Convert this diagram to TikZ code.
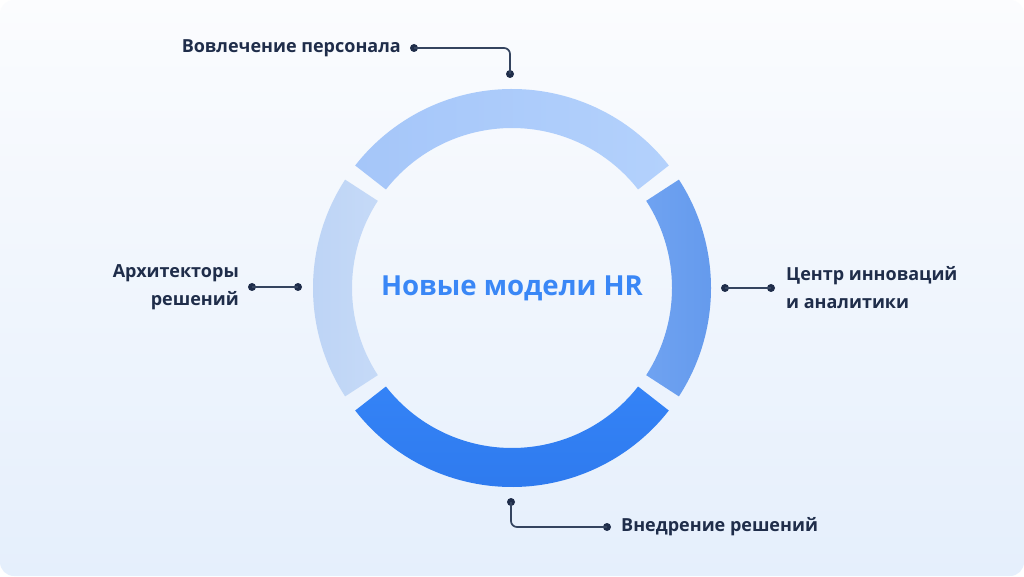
\documentclass[tikz,border=0pt]{standalone}
\usepackage{fontspec}
\setmainfont{Open Sans}
\usetikzlibrary{calc}
\definecolor{bgtop}{HTML}{FBFCFE}
\definecolor{bgbot}{HTML}{E5EFFC}
\definecolor{navy}{HTML}{1F2D4A}
\definecolor{linec}{HTML}{34445F}
\definecolor{titleblue}{HTML}{3A87F6}
\definecolor{topA}{HTML}{A5C6F9}
\definecolor{topB}{HTML}{B3D1FC}
\definecolor{leftA}{HTML}{BCD3F5}
\definecolor{leftB}{HTML}{D6E6FB}
\definecolor{rightA}{HTML}{84B3FA}
\definecolor{rightB}{HTML}{6399EC}
\definecolor{botA}{HTML}{3A8BFE}
\definecolor{botB}{HTML}{2E7AEE}
\tikzset{
  dotnode/.style={circle,fill=navy,inner sep=0pt,minimum size=8pt},
  conn/.style={draw=linec,line width=1.7pt},
  lbl/.style={text=navy,font=\fontsize{18}{28}\selectfont\bfseries,inner sep=0pt},
}
\newcommand\ringseg[3]{%
  (512,288) ++(#1:199) arc[start angle=#1,end angle=#2,radius=199]
  -- ([shift={(#2:160)}]512,288) arc[start angle=#2,end angle=#1,radius=160] -- cycle}
\begin{document}
\begin{tikzpicture}[x=1pt,y=1pt]
\useasboundingbox (0,0) rectangle (1024,576);
\fill[white] (0,0) rectangle (1024,576);
\shade[top color=bgtop,bottom color=bgbot,rounded corners=14pt] (0,0) rectangle (1024,576);
\coordinate (c) at (512,288);
% ring segments
\shade[left color=topA,right color=topB] \ringseg{38}{142}{};
\shade[left color=leftA,right color=leftB] \ringseg{147}{213}{};
\shade[top color=botA,bottom color=botB] \ringseg{218}{322}{};
\shade[left color=rightA,right color=rightB] \ringseg{-33}{33}{};
% title
\node[text=titleblue,font=\fontsize{27.6}{34}\selectfont\bfseries,inner sep=0pt] (title) at (c) {Новые модели HR};
% top label
\node[lbl,anchor=east] (ltop) at (401,528) {Вовлечение персонала};
\node[dotnode] (t1) at (414,528) {};
\node[dotnode] (t2) at (510,502) {};
\draw[conn,rounded corners=6pt] (t1.center) -| (t2.center);
% left label
\node[lbl,anchor=east,align=right] (lleft) at (239,289) {Архитекторы\\решений};
\node[dotnode] (l1) at (252,289) {};
\node[dotnode] (l2) at (298,289) {};
\draw[conn] (l1.center) -- (l2.center);
% right label
\node[lbl,anchor=west,align=left] (lright) at (786,288) {Центр инноваций\\и аналитики};
\node[dotnode] (r1) at (725,288) {};
\node[dotnode] (r2) at (771,288) {};
\draw[conn] (r1.center) -- (r2.center);
% bottom label
\node[lbl,anchor=west] (lbot) at (621,49) {Внедрение решений};
\node[dotnode] (b1) at (511,74) {};
\node[dotnode] (b2) at (607,49) {};
\draw[conn,rounded corners=6pt] (b1.center) |- (b2.center);
\end{tikzpicture}
\end{document}
